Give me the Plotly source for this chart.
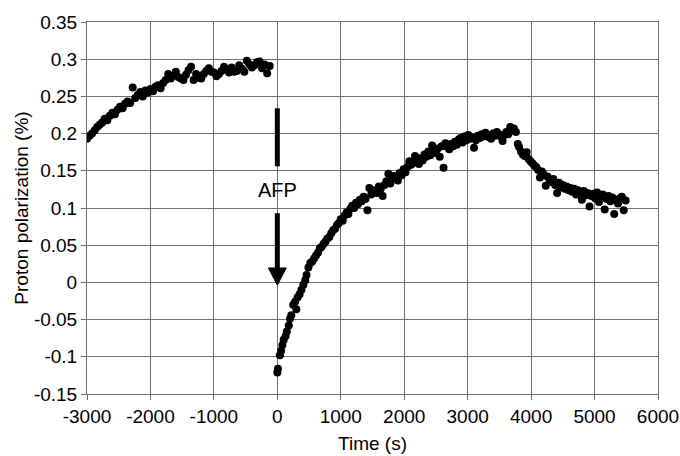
import plotly.graph_objects as go

# ---------------- data ----------------
pre_time = [-3000, -2960, -2920, -2880, -2840, -2800, -2760, -2720, -2680, -2640,
            -2600, -2560, -2520, -2480, -2440, -2400, -2360, -2320, -2280, -2240,
            -2200, -2160, -2120, -2080, -2040, -2000, -1960, -1920, -1880, -1840,
            -1800, -1760, -1720, -1680, -1640, -1600, -1560, -1520, -1480, -1440,
            -1400, -1360, -1320, -1280, -1240, -1200, -1160, -1120, -1080, -1040,
            -1000, -960, -920, -880, -840, -800, -760, -720, -680, -640,
            -600, -560, -520, -480, -440, -400, -360, -320, -280, -240,
            -200, -160, -120]
pre_pol = [0.193, 0.197, 0.200, 0.204, 0.209, 0.212, 0.215, 0.220, 0.218, 0.224,
           0.228, 0.226, 0.232, 0.236, 0.234, 0.240, 0.243, 0.241, 0.262, 0.248,
           0.252, 0.256, 0.250, 0.258, 0.255, 0.260, 0.257, 0.263, 0.265, 0.261,
           0.268, 0.272, 0.280, 0.274, 0.278, 0.283, 0.276, 0.274, 0.272, 0.279,
           0.285, 0.290, 0.272, 0.280, 0.275, 0.274, 0.280, 0.284, 0.288, 0.283,
           0.282, 0.277, 0.280, 0.284, 0.290, 0.286, 0.282, 0.289, 0.283, 0.284,
           0.292, 0.287, 0.283, 0.298, 0.293, 0.289, 0.292, 0.296, 0.297, 0.288,
           0.293, 0.281, 0.291]

post_time = [0, 10, 40, 60, 80, 100, 130, 150, 180, 200,
             220, 250, 280, 300, 320, 350, 380, 410, 440, 460,
             490, 520, 550, 580, 610, 640, 670, 700, 730, 760,
             790, 820, 850, 880, 910, 940, 970, 1000, 1030, 1060,
             1090, 1120, 1150, 1180, 1210, 1240, 1270, 1300, 1330, 1360,
             1390, 1420, 1450, 1480, 1510, 1540, 1570, 1600, 1630, 1660,
             1690, 1720, 1750, 1780, 1810, 1840, 1870, 1900, 1930, 1960,
             1990, 2020, 2050, 2080, 2110, 2140, 2170, 2200, 2230, 2260,
             2290, 2320, 2350, 2380, 2410, 2440, 2470, 2500, 2530, 2560,
             2590, 2620, 2650, 2680, 2710, 2740, 2770, 2800, 2830, 2860,
             2890, 2920, 2950, 2980, 3010, 3040, 3070, 3100, 3130, 3160,
             3190, 3220, 3250, 3280, 3310, 3340, 3370, 3400, 3430, 3460,
             3490, 3520, 3550, 3580, 3610, 3640, 3670, 3700, 3730, 3760,
             3790, 3810, 3840, 3870, 3900, 3930, 3960, 3990, 4020, 4050,
             4080, 4110, 4140, 4170, 4200, 4230, 4260, 4290, 4320, 4350,
             4380, 4410, 4440, 4470, 4500, 4530, 4560, 4590, 4620, 4650,
             4680, 4710, 4740, 4770, 4800, 4830, 4860, 4890, 4920, 4950,
             4980, 5010, 5040, 5070, 5100, 5130, 5160, 5190, 5220, 5250,
             5280, 5310, 5340, 5370, 5400, 5430, 5460, 5490]
post_pol = [-0.121, -0.116, -0.098, -0.092, -0.084, -0.077, -0.072, -0.066, -0.058, -0.049,
            -0.044, -0.030, -0.026, -0.036, -0.020, -0.016, -0.010, -0.003, 0.003, 0.010,
            0.020, 0.026, 0.028, 0.032, 0.036, 0.040, 0.046, 0.048, 0.052, 0.055,
            0.059, 0.061, 0.066, 0.070, 0.072, 0.077, 0.080, 0.085, 0.083, 0.090,
            0.094, 0.092, 0.099, 0.103, 0.100, 0.107, 0.105, 0.111, 0.109, 0.115,
            0.112, 0.097, 0.127, 0.118, 0.124, 0.121, 0.120, 0.129, 0.126, 0.116,
            0.131, 0.136, 0.146, 0.133, 0.139, 0.143, 0.141, 0.137, 0.147, 0.144,
            0.152, 0.148, 0.155, 0.163, 0.158, 0.161, 0.170, 0.165, 0.159, 0.167,
            0.164, 0.172, 0.169, 0.176, 0.171, 0.184, 0.177, 0.174, 0.180, 0.169,
            0.183, 0.154, 0.187, 0.182, 0.179, 0.186, 0.183, 0.189, 0.185, 0.192,
            0.194, 0.188, 0.196, 0.191, 0.198, 0.193, 0.195, 0.181, 0.191, 0.197,
            0.194, 0.199, 0.196, 0.201, 0.198, 0.195, 0.193, 0.200, 0.197, 0.202,
            0.199, 0.196, 0.190, 0.198, 0.202, 0.199, 0.209, 0.204, 0.207, 0.202,
            0.186, 0.182, 0.176, 0.172, 0.170, 0.175, 0.166, 0.163, 0.160, 0.157,
            0.155, 0.151, 0.141, 0.149, 0.145, 0.130, 0.142, 0.138, 0.135, 0.139,
            0.131, 0.120, 0.134, 0.128, 0.131, 0.126, 0.129, 0.124, 0.127, 0.122,
            0.126, 0.118, 0.124, 0.121, 0.111, 0.123, 0.117, 0.120, 0.102, 0.116,
            0.119, 0.113, 0.121, 0.108, 0.115, 0.118, 0.098, 0.112, 0.116, 0.109,
            0.114, 0.092, 0.111, 0.106, 0.113, 0.115, 0.097, 0.110]

x_ticks = [-3000, -2000, -1000, 0, 1000, 2000, 3000, 4000, 5000, 6000]
x_tick_text = ["-3000", "-2000", "-1000", "0", "1000", "2000", "3000", "4000", "5000", "6000"]
y_ticks = [-0.15, -0.1, -0.05, 0, 0.05, 0.1, 0.15, 0.2, 0.25, 0.3, 0.35]
y_tick_text = ["-0.15", "-0.1", "-0.05", "0", "0.05", "0.1", "0.15", "0.2", "0.25", "0.3", "0.35"]

FONT = "Liberation Sans, Arial, sans-serif"
GRID = "#6f6f6f"

fig = go.Figure()
fig.add_trace(go.Scatter(x=pre_time + post_time, y=pre_pol + post_pol, mode="markers",
                         marker=dict(size=8, color="black"), showlegend=False,
                         hoverinfo="skip"))

# white box behind "AFP" label (covers gridlines)
fig.add_shape(type="rect", xref="x", yref="y", x0=-516, x1=689, y0=0.093, y1=0.156,
              fillcolor="white", line=dict(width=0), layer="below")
# arrow: upper bar
fig.add_shape(type="line", xref="x", yref="y", x0=0, x1=0, y0=0.234, y1=0.156,
              line=dict(color="black", width=5), layer="above")
# arrow: lower bar
fig.add_shape(type="line", xref="x", yref="y", x0=0, x1=0, y0=0.093, y1=0.018,
              line=dict(color="black", width=5), layer="above")
# arrow head
fig.add_shape(type="path", xref="x", yref="y",
              path="M -141 0.0194 L 141 0.0194 L 0 -0.0035 Z",
              fillcolor="black", line=dict(color="black", width=1), layer="above")

fig.add_annotation(x=0, y=0.1245, xref="x", yref="y", text="AFP", showarrow=False,
                   font=dict(family=FONT, size=20, color="black"))

axis_common = dict(showgrid=True, gridcolor=GRID, gridwidth=1, zeroline=False,
                   showline=True, linecolor=GRID, linewidth=1, mirror=True,
                   ticks="outside", ticklen=5, tickcolor=GRID, automargin=False,
                   tickfont=dict(family=FONT, size=19, color="black"))

fig.update_xaxes(range=[-3000, 6000], tickvals=x_ticks, ticktext=x_tick_text,
                 ticklabeloverflow="allow",
                 title=dict(text="Time (s)", font=dict(family=FONT, size=19, color="black"),
                            standoff=10),
                 **axis_common)
fig.update_yaxes(range=[-0.15, 0.35], tickvals=y_ticks, ticktext=y_tick_text,
                 title=dict(text="Proton polarization (%)",
                            font=dict(family=FONT, size=19, color="black"), standoff=0),
                 **axis_common)

fig.update_layout(width=680, height=456, margin=dict(l=87, r=22, t=22, b=62),
                  plot_bgcolor="white", paper_bgcolor="white",
                  font=dict(family=FONT, color="black"))

fig.write_html("out.html")
